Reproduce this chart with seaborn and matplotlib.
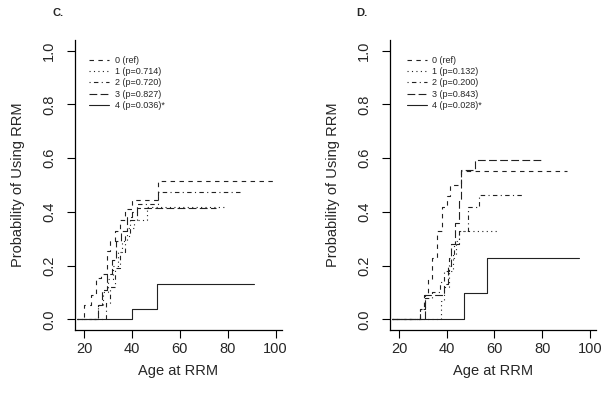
import matplotlib
matplotlib.use("Agg")
import matplotlib.pyplot as plt
from matplotlib.lines import Line2D
import pandas as pd
import seaborn as sns

# ---- data ----
groups = ["0", "1", "2", "3", "4"]

# panel C
c_start = [17, 17, 17, 17, 20]
c_end = [100, 79.5, 85, 75, 91]
c_ages = [
    [20, 23, 25, 27, 29.5, 31, 33, 35, 37, 40, 50.8],
    [26, 28, 30, 32, 34, 36, 38, 41, 46.5],
    [29, 31, 33, 35, 37, 39, 42, 50.8],
    [26, 27.5, 29.5, 31.5, 33.5, 35.5, 38, 40, 42],
    [40, 50.5],
]
c_probs = [
    [0.055, 0.09, 0.155, 0.17, 0.255, 0.29, 0.33, 0.37, 0.41, 0.445, 0.515],
    [0.055, 0.10, 0.15, 0.20, 0.25, 0.29, 0.34, 0.37, 0.42],
    [0.06, 0.12, 0.19, 0.25, 0.31, 0.37, 0.43, 0.475],
    [0.055, 0.11, 0.17, 0.22, 0.29, 0.33, 0.38, 0.40, 0.415],
    [0.037, 0.133],
]
c_labels = ["0 (ref)", "1 (p=0.714)", "2 (p=0.720)", "3 (p=0.827)", "4 (p=0.036)*"]

# panel D
d_start = [17, 17, 17, 17, 17]
d_end = [90.5, 62, 72.5, 80.5, 95.5]
d_ages = [
    [29, 30.5, 32, 34, 36, 38, 40, 41.5, 45.8],
    [37.5, 39, 41, 42.5, 44, 45],
    [29, 31, 34, 37, 39, 41, 43, 45, 49, 53.5],
    [31, 39, 40.5, 42, 43.5, 45, 46, 52],
    [47.2, 56.7],
]
d_probs = [
    [0.04, 0.09, 0.15, 0.23, 0.33, 0.42, 0.46, 0.50, 0.553],
    [0.07, 0.12, 0.18, 0.24, 0.29, 0.328],
    [0.04, 0.08, 0.10, 0.14, 0.18, 0.23, 0.28, 0.33, 0.42, 0.463],
    [0.09, 0.13, 0.20, 0.28, 0.36, 0.44, 0.555, 0.592],
    [0.098, 0.228],
]
d_labels = ["0 (ref)", "1 (p=0.132)", "2 (p=0.200)", "3 (p=0.843)", "4 (p=0.028)*"]

x_ticks = [20, 40, 60, 80, 100]
y_ticks = [0.0, 0.2, 0.4, 0.6, 0.8, 1.0]

# R style line types
dash_map = {"0": (4, 4), "1": (1, 3), "2": (1, 3, 4, 3), "3": (7, 3), "4": ""}


def to_long(starts, ends, ages, probs):
    rows = []
    for g, s, e, a, p in zip(groups, starts, ends, ages, probs):
        xs = [s] + a + [e]
        ys = [0.0] + p + [p[-1]]
        for x, y in zip(xs, ys):
            rows.append({"group": g, "age": x, "prob": y})
    return pd.DataFrame(rows)


sns.set_style("ticks")
plt.rcParams["font.family"] = ["Liberation Sans", "DejaVu Sans"]

fig = plt.figure(figsize=(6.14, 4.08), dpi=100)
ax_c = fig.add_axes([0.122, 0.191, 0.337, 0.711])
ax_d = fig.add_axes([0.635, 0.191, 0.336, 0.711])

panels = [
    (ax_c, to_long(c_start, c_end, c_ages, c_probs), c_labels, "C.", 0.086, 0.070),
    (ax_d, to_long(d_start, d_end, d_ages, d_probs), d_labels, "D.", 0.581, 0.083),
]

for ax, df, labels, tag, tag_x, leg_x in panels:
    sns.lineplot(data=df, x="age", y="prob", style="group", style_order=groups,
                 dashes=dash_map, color="#222222", lw=0.8, drawstyle="steps-post",
                 estimator=None, sort=False, legend=False, ax=ax)
    ax.set_xlim(16.2, 102.6)
    ax.set_ylim(-0.04, 1.04)
    ax.set_xticks(x_ticks)
    ax.set_yticks(y_ticks)
    ax.set_yticklabels([f"{v:.1f}" for v in y_ticks], rotation=90, va="center")
    ax.tick_params(axis="both", labelsize=10.5, length=5.5, width=0.8, color="black")
    ax.tick_params(axis="x", pad=3)
    ax.tick_params(axis="y", pad=8)
    ax.set_xlabel("Age at RRM", fontsize=10.5, labelpad=6)
    ax.set_ylabel("Probability of Using RRM", fontsize=10.5, labelpad=12)
    for s in ["left", "bottom"]:
        ax.spines[s].set_linewidth(0.9)
        ax.spines[s].set_color("black")
    sns.despine(ax=ax)

    handles = []
    for g in groups:
        h = Line2D([], [], color="#222222", lw=0.8, linestyle="-")
        if dash_map[g]:
            h.set_dashes(dash_map[g])
        handles.append(h)
    ax.legend(handles, labels, loc="upper left", bbox_to_anchor=(leg_x, 0.945),
              frameon=False, fontsize=6.5, handlelength=2.2, labelspacing=0.25,
              handletextpad=0.6, borderpad=0, borderaxespad=0)
    fig.text(tag_x, 0.968, tag, fontsize=8, fontweight="bold", va="center")

fig.savefig("out.png", dpi=100)
